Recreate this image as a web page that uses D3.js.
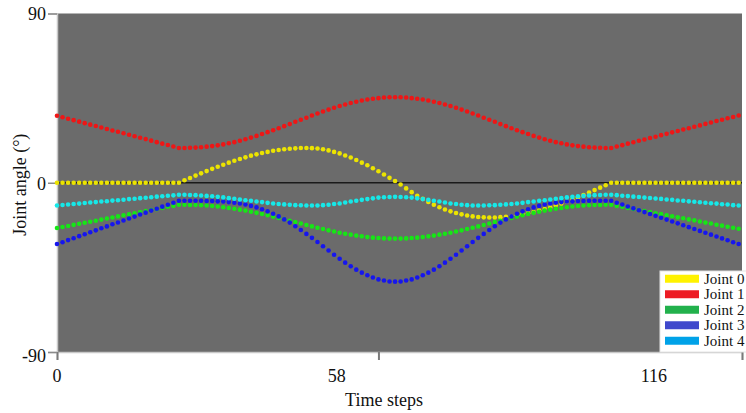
<!DOCTYPE html>
<html>
<head>
<meta charset="utf-8">
<script src="https://cdn.jsdelivr.net/npm/d3@7"></script>
<style>
  body { margin: 0; background: #fff; }
  text { font-family: "Liberation Serif", "Times New Roman", serif; fill: #111; }
</style>
</head>
<body>
<div id="chart"></div>
<script>
// joint angles (degrees), one value per time step
let joint0 = [0,0,0,0,0,0,0,0,0,0,0,0,0,0,0,0,0,0,0,0,0,0,0,
  1.3,2.5,3.8,5.0,6.2,7.4,8.5,9.6,10.7,11.7,12.6,13.5,14.4,15.1,15.8,16.4,17.0,17.4,17.8,18.1,18.3,18.5,
  18.5,
  18.4,18.2,17.8,17.2,16.4,15.6,14.5,13.4,12.1,10.7,9.3,7.7,6.1,4.4,2.6,0.9,-0.9,
  -3.0,-5.0,-6.9,-8.6,-10.2,-11.7,-13.0,-14.2,-15.2,-16.1,-16.8,-17.4,-17.9,-18.2,-18.4,-18.5,
  -18.5,-18.3,-18.1,-17.8,-17.3,-16.8,-16.2,-15.6,-14.8,-14.0,-13.1,-12.1,-11.1,-10.0,-8.9,-7.7,-6.5,-5.2,-3.9,-2.6,-1.3,0,
  0,0,0,0,0,0,0,0,0,0,0,0,0,0,0,0,0,0,0,0,0,0,0];

let joint1 = [35.6,34.8,34.0,33.3,32.5,31.7,30.9,30.2,29.4,28.6,27.8,27.1,26.3,25.5,24.7,23.9,23.2,22.4,21.6,20.8,20.1,19.3,18.5,
  18.5,18.6,18.7,18.9,19.2,19.5,19.9,20.4,21.0,21.6,22.3,23.1,24.0,24.9,25.9,26.9,27.9,29.0,30.1,31.2,32.4,33.5,34.6,35.8,36.8,37.9,38.9,39.9,40.8,41.6,42.4,43.1,43.7,44.3,44.7,45.0,45.3,45.5,45.5,
  45.5,45.3,45.0,44.7,44.3,43.7,43.1,42.4,41.6,40.8,39.9,38.9,37.9,36.8,35.8,34.6,33.5,32.4,31.2,30.1,29.0,27.9,26.9,25.9,24.9,24.0,23.1,22.3,21.6,21.0,20.4,19.9,19.5,19.2,18.9,18.7,18.6,18.5,18.5,
  19.3,20.0,20.8,21.5,22.3,23.0,23.8,24.5,25.3,26.0,26.8,27.5,28.3,29.0,29.8,30.5,31.3,32.0,32.8,33.5,34.3,35.0,35.8];

let joint2 = [-24.1,-23.5,-23.0,-22.4,-21.8,-21.3,-20.7,-20.2,-19.6,-19.0,-18.5,-17.9,-17.3,-16.8,-16.2,-15.6,-15.1,-14.5,-14.0,-13.4,-12.8,-12.3,-11.7,
  -11.7,-11.8,-11.8,-12.0,-12.1,-12.4,-12.6,-13.0,-13.4,-13.8,-14.3,-14.8,-15.4,-16.0,-16.6,-17.3,-18.0,-18.7,-19.4,-20.2,-20.9,-21.7,-22.5,-23.2,-23.9,-24.6,-25.3,-25.9,-26.6,-27.1,-27.6,-28.1,-28.5,-28.9,-29.2,-29.4,-29.6,-29.7,-29.7,
  -29.7,-29.6,-29.4,-29.2,-28.9,-28.5,-28.1,-27.6,-27.1,-26.6,-25.9,-25.3,-24.6,-23.9,-23.2,-22.5,-21.7,-20.9,-20.2,-19.4,-18.7,-18.0,-17.3,-16.6,-16.0,-15.4,-14.8,-14.3,-13.8,-13.4,-13.0,-12.6,-12.4,-12.1,-12.0,-11.8,-11.8,-11.7,-11.7,
  -12.3,-12.8,-13.4,-13.9,-14.5,-15.0,-15.6,-16.2,-16.7,-17.3,-17.8,-18.4,-18.9,-19.5,-20.0,-20.6,-21.2,-21.7,-22.3,-22.8,-23.4,-23.9,-24.5];

let joint3 = [-32.6,-31.6,-30.5,-29.5,-28.4,-27.4,-26.3,-25.3,-24.2,-23.2,-22.1,-21.1,-20.1,-19.0,-18.0,-16.9,-15.9,-14.8,-13.8,-12.7,-11.7,-10.6,-9.6,
  -9.6,-9.6,-9.6,-9.6,-9.7,-9.7,-9.9,-10.0,-10.3,-10.6,-11.0,-11.6,-12.3,-13.1,-14.1,-15.2,-16.5,-17.9,-19.5,-21.2,-23.1,-25.1,-27.2,-29.3,-31.5,-33.8,-36.0,-38.3,-40.4,-42.5,-44.4,-46.2,-47.8,-49.2,-50.4,-51.4,-52.0,-52.5,-52.6,
  -52.5,-52.0,-51.4,-50.4,-49.2,-47.8,-46.2,-44.4,-42.5,-40.4,-38.3,-36.0,-33.8,-31.5,-29.3,-27.2,-25.1,-23.1,-21.2,-19.5,-17.9,-16.5,-15.2,-14.1,-13.1,-12.3,-11.6,-11.0,-10.6,-10.3,-10.0,-9.9,-9.7,-9.7,-9.6,-9.6,-9.6,-9.6,-9.6,
  -10.6,-11.6,-12.6,-13.6,-14.6,-15.6,-16.6,-17.6,-18.6,-19.6,-20.6,-21.6,-22.6,-23.6,-24.6,-25.6,-26.6,-27.6,-28.6,-29.6,-30.6,-31.6,-32.6];

let joint4 = [-12.1,-11.8,-11.6,-11.3,-11.1,-10.8,-10.5,-10.3,-10.0,-9.8,-9.5,-9.3,-9.0,-8.7,-8.5,-8.2,-8.0,-7.7,-7.4,-7.2,-6.9,-6.7,-6.4,
  -6.4,-6.5,-6.6,-6.8,-7.0,-7.2,-7.5,-7.8,-8.2,-8.5,-8.9,-9.3,-9.6,-10.0,-10.3,-10.7,-11.0,-11.3,-11.5,-11.7,-11.9,-12.0,-12.1,-12.1,
  -12.1,-11.9,-11.7,-11.3,-11.0,-10.5,-10.0,-9.6,-9.1,-8.7,-8.3,-7.9,-7.7,-7.6,-7.5,
  -7.6,-7.7,-7.9,-8.3,-8.7,-9.1,-9.6,-10.0,-10.5,-11.0,-11.3,-11.7,-11.9,-12.1,
  -12.1,-12.1,-12.0,-11.9,-11.7,-11.5,-11.3,-11.0,-10.7,-10.3,-10.0,-9.6,-9.3,-8.9,-8.5,-8.2,-7.8,-7.5,-7.2,-7.0,-6.8,-6.6,-6.5,-6.4,-6.4,
  -6.6,-6.9,-7.1,-7.4,-7.6,-7.9,-8.1,-8.4,-8.6,-8.9,-9.1,-9.4,-9.6,-9.9,-10.1,-10.4,-10.6,-10.9,-11.1,-11.4,-11.6,-11.9,-12.1];

let jointNames = ['Joint 0', 'Joint 1', 'Joint 2', 'Joint 3', 'Joint 4'];
let yTicks = [90, 0, -90];
let xTicks = [0, 58, 123.6];
let xTickLabels = ['0', '58', '116'];
let xLabelAt = [0, 50.5, 107.7];   // where the labels sit in the original figure

let series = [joint0, joint1, joint2, joint3, joint4];

// colours
let dotColor = ['#ece400', '#ee1616', '#16e616', '#1616ee', '#16e8e8'];
let keyColor = ['#fff200', '#ed1c24', '#22b14c', '#3f48cc', '#00a2e8'];

let W = 746, H = 413;
let margin = {top: 13.5, right: 4, bottom: 61, left: 57};

let x = d3.scaleLinear()
  .domain([0, 123.6])
  .range([margin.left, W - margin.right]);

let y = d3.scaleLinear()
  .domain([-90, 90])
  .range([H - margin.bottom, margin.top]);

let svg = d3.select('#chart').append('svg')
  .attr('width', W)
  .attr('height', H);

// plot background
svg.append('rect')
  .attr('x', x(0))
  .attr('y', y(90))
  .attr('width', x(123.6) - x(0))
  .attr('height', y(-90) - y(90))
  .attr('fill', '#6b6b6b');

// zero line
svg.append('line')
  .attr('x1', x(0)).attr('x2', x(123.6))
  .attr('y1', y(0)).attr('y2', y(0))
  .attr('stroke', '#1a1a1a')
  .attr('stroke-width', 1.5);

// axes
let yAxis = svg.append('g')
  .attr('transform', `translate(${x(0)},0)`)
  .call(d3.axisLeft(y).tickValues(yTicks).tickSize(9).tickFormat(d => String(d)));

yAxis.select('.domain').attr('stroke', '#c8c8c8').attr('stroke-width', 1.5);
yAxis.selectAll('.tick line').attr('stroke', '#8a8a8a').attr('stroke-width', 1.5);
yAxis.selectAll('.tick text')
  .attr('x', -11)
  .attr('dy', d => d < 0 ? '0.55em' : '0.35em')
  .style('font-size', '18px')
  .style('font-family', '"Liberation Serif", serif')
  .attr('fill', '#111');

let xAxis = svg.append('g')
  .attr('transform', `translate(0,${y(-90)})`)
  .call(d3.axisBottom(x).tickValues(xTicks).tickSize(8).tickFormat(''));

xAxis.select('.domain').attr('stroke', '#c8c8c8').attr('stroke-width', 1.5);
xAxis.selectAll('.tick line').attr('stroke', '#7a7a7a').attr('stroke-width', 2);

svg.selectAll('.xlab')
  .data(xTickLabels)
  .enter().append('text')
    .attr('class', 'xlab')
    .attr('x', (d, i) => x(xLabelAt[i]))
    .attr('y', 382)
    .attr('text-anchor', 'middle')
    .style('font-size', '18px')
    .text(d => d);

// axis titles
svg.append('text')
  .attr('x', 384)
  .attr('y', 406)
  .attr('text-anchor', 'middle')
  .style('font-size', '18px')
  .text('Time steps');

svg.append('text')
  .attr('transform', `translate(25.5, ${y(0) + 2}) rotate(-90)`)
  .attr('text-anchor', 'middle')
  .style('font-size', '18px')
  .text('Joint angle (°)');

// dotted joint curves
series.forEach((vals, j) => {
  svg.append('g')
    .selectAll('circle')
    .data(vals)
    .enter().append('circle')
      .attr('cx', (d, i) => x(i))
      .attr('cy', d => y(d))
      .attr('r', 2.3)
      .attr('fill', dotColor[j]);
});

// legend
let legend = svg.append('g').attr('transform', 'translate(660, 271)');

legend.append('rect')
  .attr('width', 90)
  .attr('height', 81)
  .attr('fill', '#fff')
  .attr('stroke', '#e4e4e4');

let row = legend.selectAll('.legend')
  .data(jointNames)
  .enter().append('g')
    .attr('class', 'legend')
    .attr('transform', (d, i) => `translate(0, ${7.7 + i * 15.5})`);

row.append('line')
  .attr('x1', 5).attr('x2', 39)
  .attr('stroke', (d, i) => keyColor[i])
  .attr('stroke-width', 8);

row.append('text')
  .attr('x', 44)
  .attr('y', 5)
  .style('font-size', '15px')
  .text(d => d);
</script>
</body>
</html>
